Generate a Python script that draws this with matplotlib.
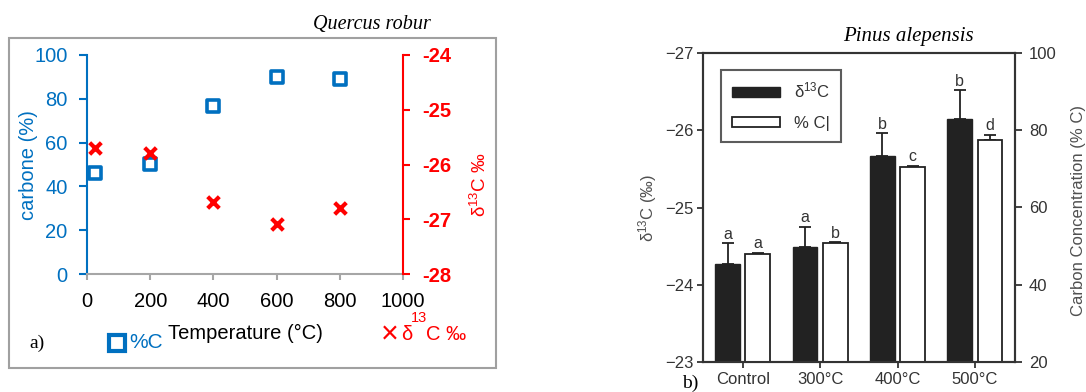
import numpy as np
import matplotlib
matplotlib.use('Agg')
import matplotlib.pyplot as plt
from matplotlib.patches import Patch, Rectangle
from matplotlib.lines import Line2D

plt.rcParams['font.family'] = ['Liberation Sans', 'DejaVu Sans']
plt.rcParams['mathtext.default'] = 'regular'

# panel a : Quercus robur
temps = [25, 200, 400, 600, 800]
carbon_pct = [46.3, 50.2, 76.7, 90.1, 88.9]
d13c_a = [-25.70, -25.79, -26.69, -27.09, -26.80]

# panel b : Pinus alepensis
groups = ['Control', '300°C', '400°C', '500°C']
d13c_b = [-24.27, -24.49, -25.67, -26.15]
d13c_err = [0.27, 0.26, 0.29, 0.37]
pctc_b = [48.0, 50.8, 70.5, 77.5]
pctc_err = [0.3, 0.2, 0.3, 1.3]
letters_d13c = ['a', 'a', 'b', 'b']
letters_pctc = ['a', 'b', 'c', 'd']

W, H = 1086, 392
fig = plt.figure(figsize=(W / 100, H / 100), dpi=100)

def fx(px):
    return px / W

def fy(py):
    return 1 - py / H

blue = '#0070C0'
red = '#FF0000'
grey_ax = '#A6A6A6'

# ---------------- panel a ----------------
fig.patches.append(Rectangle((fx(9), fy(368)), fx(487), 330 / H, transform=fig.transFigure,
                             fill=False, edgecolor='#A0A0A0', lw=1.5))

ax1 = fig.add_axes([fx(87), fy(274), fx(316), 219 / H])
ax1.scatter(temps, carbon_pct, marker='s', s=80, facecolor='white', edgecolor=blue,
            linewidths=2.6, zorder=3, clip_on=False)
ax1.set_xlim(0, 1000)
ax1.set_ylim(0, 100)
ax1.set_xticks(np.arange(0, 1001, 200))
ax1.set_yticks(np.arange(0, 101, 20))
for s in ['top', 'right']:
    ax1.spines[s].set_visible(False)
ax1.spines['left'].set_color(blue)
ax1.spines['left'].set_linewidth(1.5)
ax1.spines['bottom'].set_color(grey_ax)
ax1.spines['bottom'].set_linewidth(1.5)
ax1.tick_params(axis='y', colors=blue, labelsize=14.5, length=6, width=1.5, pad=8)
ax1.tick_params(axis='x', colors=grey_ax, labelcolor='black', labelsize=14.5, length=4, width=1.5, pad=9)

ax2 = ax1.twinx()
ax2.scatter(temps, d13c_a, marker='x', s=70, color=red, linewidths=3, zorder=3)
ax2.set_ylim(-28, -24)
ax2.set_yticks([-28, -27, -26, -25, -24])
ax2.set_yticklabels(['-28', '-27', '-26', '-25', '-24'], fontweight='bold')
for s in ['top', 'left', 'bottom']:
    ax2.spines[s].set_visible(False)
ax2.spines['right'].set_color(red)
ax2.spines['right'].set_linewidth(1.5)
ax2.tick_params(axis='y', colors=red, labelsize=14.5, length=5, width=1.5, pad=9)

fig.text(fx(28), fy(165), 'carbone (%)', rotation=90, color=blue, fontsize=14.5,
         ha='center', va='center')
fig.text(fx(480), fy(185), 'δ$^{13}$C ‰', rotation=90, color=red, fontsize=13.5,
         ha='center', va='center')
fig.text(fx(245), fy(333), 'Temperature (°C)', fontsize=14.5, ha='center', va='center')
fig.text(fx(372), fy(25), 'Quercus robur', fontsize=14.5, style='italic',
         family='Liberation Serif', ha='center', va='center')
fig.text(fx(37), fy(343), 'a)', fontsize=14, family='Liberation Serif', ha='center', va='center')

fig.lines.append(Line2D([fx(117)], [fy(343)], transform=fig.transFigure, marker='s',
                        markersize=11, markerfacecolor='white', markeredgecolor=blue,
                        markeredgewidth=3))
fig.text(fx(129), fy(343), '%C', color=blue, fontsize=15, ha='left', va='center')
fig.text(fx(390), fy(335), '×', color=red, fontsize=22, ha='center', va='center')
fig.text(fx(407), fy(335), 'δ', color=red, fontsize=14.5, ha='center', va='center')
fig.text(fx(419), fy(318), '13', color=red, fontsize=10.5, ha='center', va='center')
fig.text(fx(426), fy(335), 'C ‰', color=red, fontsize=14.5, ha='left', va='center')

# ---------------- panel b ----------------
dark = '#222222'
txt = '#333333'
x = np.arange(len(groups))
off = 0.195
bw = 0.32

ax3 = fig.add_axes([fx(703), fy(362), fx(312), 309 / H])
ax3.bar(x - off, np.array(d13c_b) + 23, bottom=-23, width=bw, color=dark,
        edgecolor=dark, zorder=2)
ax3.errorbar(x - off, d13c_b, yerr=[d13c_err, np.zeros(len(x))], fmt='none',
             ecolor=dark, elinewidth=1.3, capsize=4, capthick=1.3, zorder=1)
ax3.set_xlim(-0.513, 3.518)
ax3.set_ylim(-23, -27)
ax3.set_yticks([-23, -24, -25, -26, -27])
ax3.set_yticklabels(['\u221223', '\u221224', '\u221225', '\u221226', '\u221227'])
ax3.set_xticks(x)
ax3.set_xticklabels(groups)
for s in ax3.spines.values():
    s.set_color(txt)
    s.set_linewidth(1.5)
ax3.tick_params(colors=txt, labelsize=12, length=4, width=1.3, pad=3)
for i in range(len(x)):
    ax3.annotate(letters_d13c[i], (x[i] - off, d13c_b[i] - d13c_err[i]),
                 xytext=(0, 1), textcoords='offset points', ha='center', va='bottom',
                 fontsize=11.5, color=txt)

ax4 = ax3.twinx()
ax4.bar(x + off, np.array(pctc_b) - 20, bottom=20, width=bw, color='white',
        edgecolor=dark, linewidth=1.3, zorder=2)
ax4.errorbar(x + off, pctc_b, yerr=[np.zeros(len(x)), pctc_err], fmt='none',
             ecolor=dark, elinewidth=1.3, capsize=4, capthick=1.3, zorder=1)
ax4.set_ylim(20, 100)
ax4.set_yticks([20, 40, 60, 80, 100])
for s in ax4.spines.values():
    s.set_color(txt)
    s.set_linewidth(1.5)
ax4.tick_params(colors=txt, labelsize=12, length=5, width=1.3, pad=5)
for i in range(len(x)):
    ax4.annotate(letters_pctc[i], (x[i] + off, pctc_b[i] + pctc_err[i]),
                 xytext=(0, 1), textcoords='offset points', ha='center', va='bottom',
                 fontsize=11.5, color=txt)

handles = [Patch(facecolor=dark, edgecolor=dark),
           Patch(facecolor='white', edgecolor=dark, linewidth=1.3)]
leg = ax4.legend(handles, ['δ$^{13}$C', '% C|'], loc='upper left',
                 bbox_to_anchor=(0.058, 0.945), fontsize=12, frameon=True, fancybox=False,
                 handlelength=2.9, handleheight=0.6, borderpad=0.65, labelspacing=0.9,
                 handletextpad=0.8, borderaxespad=0)
leg.get_frame().set_edgecolor(txt)
leg.get_frame().set_linewidth(1.5)
for t in leg.get_texts():
    t.set_color(txt)

fig.text(fx(648), fy(208), 'δ$^{13}$C (‰)', rotation=90, color='#505050', fontsize=12,
         ha='center', va='center')
fig.text(fx(1078), fy(211), 'Carbon Concentration (% C)', rotation=90, color='#505050',
         fontsize=12, ha='center', va='center')
fig.text(fx(908), fy(36), 'Pinus alepensis', fontsize=15, style='italic',
         family='Liberation Serif', ha='center', va='center')
fig.text(fx(690), fy(383), 'b)', fontsize=14, family='Liberation Serif', ha='center', va='center')

fig.savefig('out.png', dpi=100)
